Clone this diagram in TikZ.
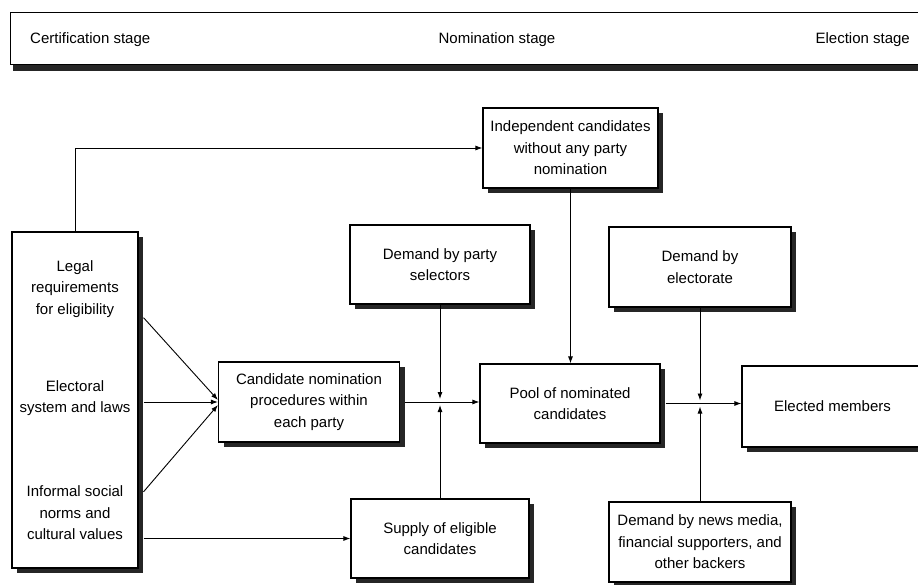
\documentclass[tikz,border=0pt]{standalone}
\usepackage{fontspec}
\setmainfont{Liberation Sans}
\usetikzlibrary{positioning,arrows.meta,shadows}

\begin{document}
\begin{tikzpicture}[
    x=1pt, y=-1pt,
    >={Latex[length=7pt,width=5pt]},
    font=\fontsize{15}{21.5}\selectfont,
    every node/.style={inner sep=0pt},
    box/.style={draw, fill=white, line width=1.1pt, align=center,
        drop shadow={shadow xshift=5pt, shadow yshift=-5pt, fill=black!85, opacity=1}},
    txt/.style={align=center},
    wire/.style={line width=0.9pt}
]
\useasboundingbox (0,0) rectangle (918,585);
\clip (0,0) rectangle (918,585);

% stages
\node[box, anchor=north west, minimum width=920pt, minimum height=52pt,
    drop shadow={shadow xshift=2pt, shadow yshift=-6pt, fill=black!85, opacity=1}] (banner) at (10,12) {};
\node[anchor=west] (cert) at (30,40) {Certification stage};
\node (nomst) at (497,40) {Nomination stage};
\node[anchor=east] (elst) at (910,40) {Election stage};

% boxes
\node[box, minimum width=126pt, minimum height=336pt] (left) at (75,400) {};
\node[txt] (legal) at (75,289) {Legal\\requirements\\for eligibility};
\node[txt] (electoral) at (75,398) {Electoral\\system and laws};
\node[txt] (informal) at (75,513) {Informal social\\norms and\\cultural values};

\node[box, minimum width=175pt, minimum height=80pt] (indep) at (570.5,148) {Independent candidates\\without any party\\nomination};
\node[box, minimum width=180pt, minimum height=79pt] (party) at (440,264.5) {Demand by party\\selectors};
\node[box, minimum width=181pt, minimum height=80pt] (cand) at (309,402) {Candidate nomination\\procedures within\\each party};
\node[box, minimum width=178pt, minimum height=79pt] (supply) at (440,538.5) {Supply of eligible\\candidates};
\node[box, minimum width=180pt, minimum height=79pt] (pool) at (570,403.5) {Pool of nominated\\candidates};
\node[box, minimum width=182pt, minimum height=80pt] (elect) at (700,267) {Demand by\\electorate};
\node[box, minimum width=182pt, minimum height=80pt] (news) at (700,542) {Demand by news media,\\financial supporters, and\\other backers};
\node[box, minimum width=181pt, minimum height=81pt] (members) at (832.5,406.5) {Elected members};

% connectors
\draw[wire,->] (left.north) -- (left.north |- indep.west) -- (indep.west);
\draw[wire,->] ([xshift=5pt]left.east |- legal.south) -- ([yshift=2pt]cand.west);
\draw[wire,->] ([xshift=5pt]left.east |- cand.west) -- (cand.west);
\draw[wire,->] ([xshift=5pt,yshift=-6pt]left.east |- informal.north) -- ([yshift=-3pt]cand.west);
\draw[wire,->] ([xshift=5pt]left.east |- supply.west) -- (supply.west);

\coordinate (j1) at (cand.east -| party.south);
\coordinate (j2) at (pool.east -| elect.south);
\draw[wire,->] ([xshift=5pt]cand.east) -- (cand.east -| pool.west);
\draw[wire,->] (party.south) -- ([yshift=3pt]j1);
\draw[wire,->] (supply.north) -- ([yshift=-3pt]j1);
\draw[wire,->] (indep.south) -- (indep.south |- pool.north);

\draw[wire,->] ([xshift=5pt]pool.east) -- (pool.east -| members.west);
\draw[wire,->] (elect.south) -- ([yshift=3pt]j2);
\draw[wire,->] (news.north) -- ([yshift=-3pt]j2);
\end{tikzpicture}
\end{document}
